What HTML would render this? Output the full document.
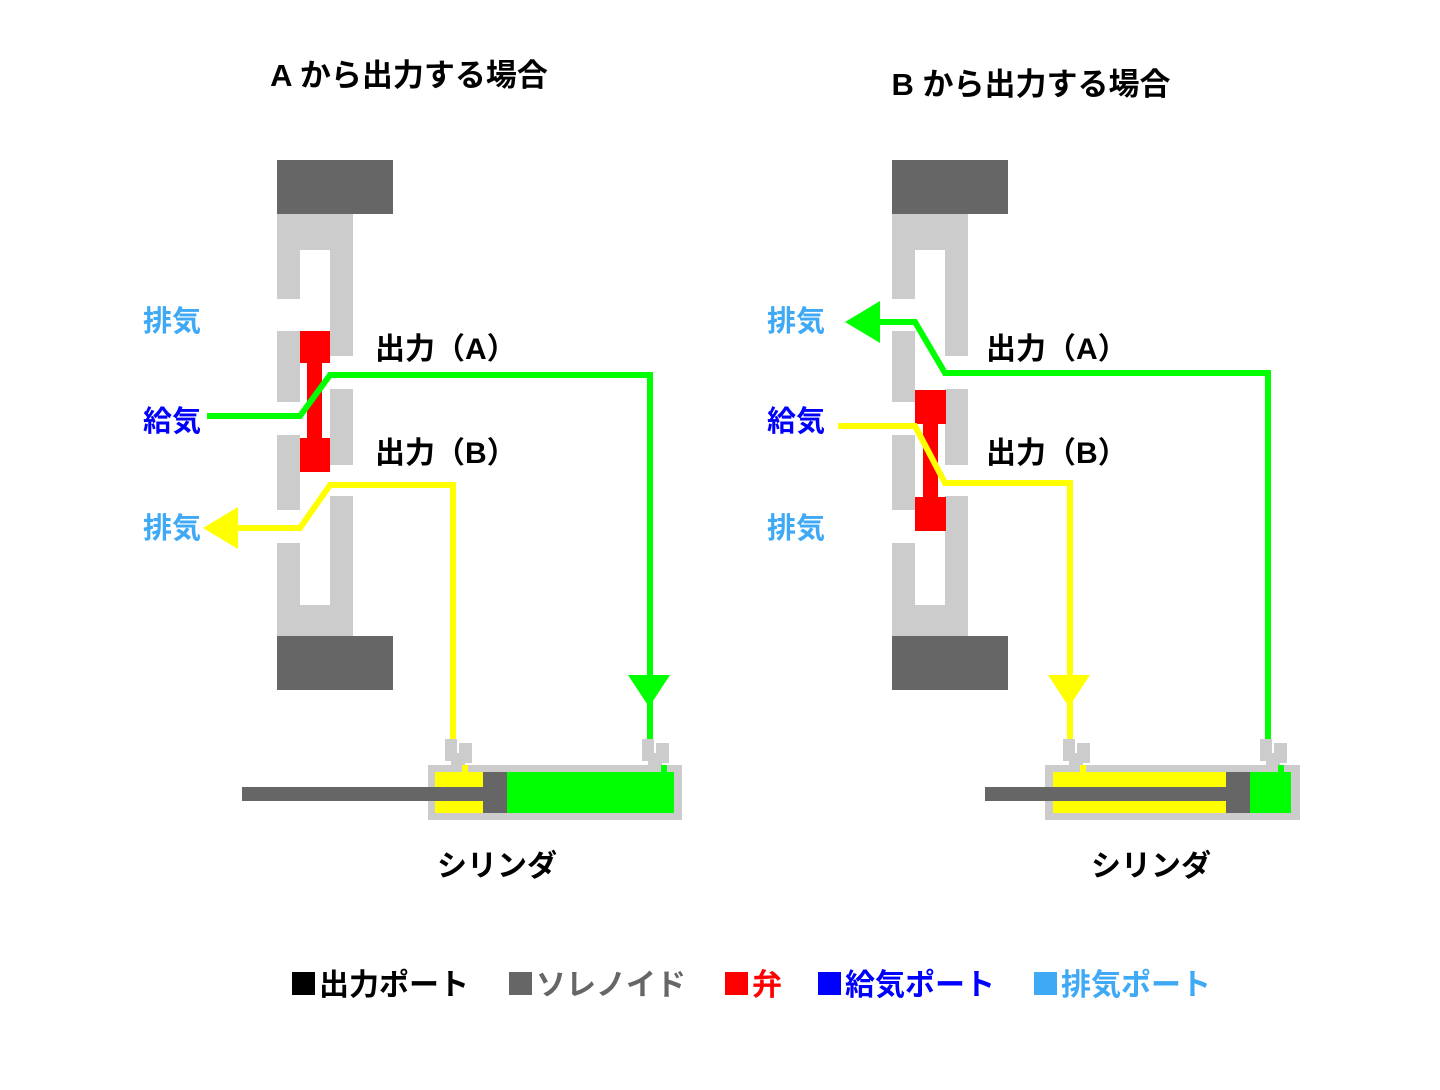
<!DOCTYPE html>
<html><head><meta charset="utf-8"><style>
html,body{margin:0;padding:0;background:#fff}
svg{display:block}
text{font-family:"Liberation Sans","Noto Sans CJK JP",sans-serif;font-weight:bold}
</style></head><body>
<svg width="1440" height="1090" viewBox="0 0 1440 1090" xmlns="http://www.w3.org/2000/svg">
<defs>
<g id="valve">
  <rect x="277" y="160" width="116" height="54" fill="#666"/>
  <rect x="277" y="636" width="116" height="54" fill="#666"/>
  <rect x="277" y="214" width="76" height="36" fill="#ccc"/>
  <rect x="277" y="214" width="23" height="85" fill="#ccc"/>
  <rect x="330" y="214" width="23" height="142" fill="#ccc"/>
  <rect x="277" y="331" width="23" height="71" fill="#ccc"/>
  <rect x="330" y="389" width="23" height="76" fill="#ccc"/>
  <rect x="277" y="435" width="23" height="75" fill="#ccc"/>
  <rect x="277" y="543" width="23" height="93" fill="#ccc"/>
  <rect x="330" y="496" width="23" height="140" fill="#ccc"/>
  <rect x="277" y="605" width="76" height="31" fill="#ccc"/>
</g>
<g id="fit">
  <rect x="0" y="0" width="12" height="22" fill="#ccc"/>
  <rect x="14" y="4" width="13" height="20" fill="#ccc"/>
  <rect x="6" y="14" width="14" height="12" fill="#ccc"/>
</g>
</defs>

<text x="409" y="86" font-size="31" text-anchor="middle">A から出力する場合</text>
<text x="1031" y="95" font-size="31" text-anchor="middle">B から出力する場合</text>

<!-- LEFT -->
<use href="#valve"/>
<rect x="300" y="331" width="30" height="32" fill="#f00"/>
<rect x="300" y="438" width="30" height="34" fill="#f00"/>
<rect x="307" y="360" width="15" height="80" fill="#f00"/>
<polyline points="207,416 300,416 330,375 650,375 650,745" fill="none" stroke="#0f0" stroke-width="6"/>
<polygon points="628,675 670,675 649,707" fill="#0f0"/>
<polyline points="237,528 300,528 330,485 453,485 453,745" fill="none" stroke="#ff0" stroke-width="6"/>
<polygon points="203,528 238,507 238,549" fill="#ff0"/>

<text x="143" y="331" font-size="29" fill="#3fa9f5">排気</text>
<text x="143" y="431" font-size="29" fill="#00f">給気</text>
<text x="143" y="538" font-size="29" fill="#3fa9f5">排気</text>
<text x="375" y="359" font-size="30">出力（A）</text>
<text x="375" y="463" font-size="30">出力（B）</text>

<use href="#fit" x="445" y="739"/>
<use href="#fit" x="642" y="739"/>
<rect x="428" y="765" width="254" height="55" fill="#ccc"/>
<rect x="435" y="772" width="48" height="41" fill="#ff0"/>
<rect x="483" y="772" width="24" height="41" fill="#666"/>
<rect x="507" y="772" width="167" height="41" fill="#0f0"/>
<rect x="242" y="787" width="241" height="14" fill="#666"/>
<rect x="462" y="765" width="6" height="7" fill="#ff0"/>
<rect x="661" y="765" width="6" height="7" fill="#0f0"/>
<text x="497" y="876" font-size="30" text-anchor="middle">シリンダ</text>

<!-- RIGHT -->
<use href="#valve" x="615"/>
<rect x="915" y="390" width="31" height="34" fill="#f00"/>
<rect x="915" y="497" width="31" height="34" fill="#f00"/>
<rect x="923" y="420" width="15" height="80" fill="#f00"/>
<polyline points="878,322 915,322 945,373 1268,373 1268,745" fill="none" stroke="#0f0" stroke-width="6"/>
<polygon points="845,322 880,301 880,343" fill="#0f0"/>
<polyline points="838,426 915,426 945,483 1070,483 1070,745" fill="none" stroke="#ff0" stroke-width="6"/>
<polygon points="1048,675 1090,675 1069,707" fill="#ff0"/>

<text x="767" y="331" font-size="29" fill="#3fa9f5">排気</text>
<text x="767" y="431" font-size="29" fill="#00f">給気</text>
<text x="767" y="538" font-size="29" fill="#3fa9f5">排気</text>
<text x="986" y="359" font-size="30">出力（A）</text>
<text x="986" y="463" font-size="30">出力（B）</text>

<use href="#fit" x="1063" y="739"/>
<use href="#fit" x="1260" y="739"/>
<rect x="1045" y="765" width="255" height="55" fill="#ccc"/>
<rect x="1053" y="772" width="173" height="41" fill="#ff0"/>
<rect x="1226" y="772" width="24" height="41" fill="#666"/>
<rect x="1250" y="772" width="41" height="41" fill="#0f0"/>
<rect x="985" y="787" width="241" height="14" fill="#666"/>
<rect x="1080" y="765" width="6" height="7" fill="#ff0"/>
<rect x="1278" y="765" width="6" height="7" fill="#0f0"/>
<text x="1151" y="876" font-size="30" text-anchor="middle">シリンダ</text>

<!-- legend -->
<rect x="292" y="972" width="23" height="23" fill="#000"/>
<text x="319" y="995" font-size="30" fill="#000">出力ポート</text>
<rect x="509" y="972" width="23" height="23" fill="#666"/>
<text x="536" y="995" font-size="30" fill="#666">ソレノイド</text>
<rect x="725" y="972" width="23" height="23" fill="#f00"/>
<text x="752" y="995" font-size="30" fill="#f00">弁</text>
<rect x="818" y="972" width="23" height="23" fill="#00f"/>
<text x="845" y="995" font-size="30" fill="#00f">給気ポート</text>
<rect x="1034" y="972" width="23" height="23" fill="#3fa9f5"/>
<text x="1061" y="995" font-size="30" fill="#3fa9f5">排気ポート</text>
</svg>
</body></html>
